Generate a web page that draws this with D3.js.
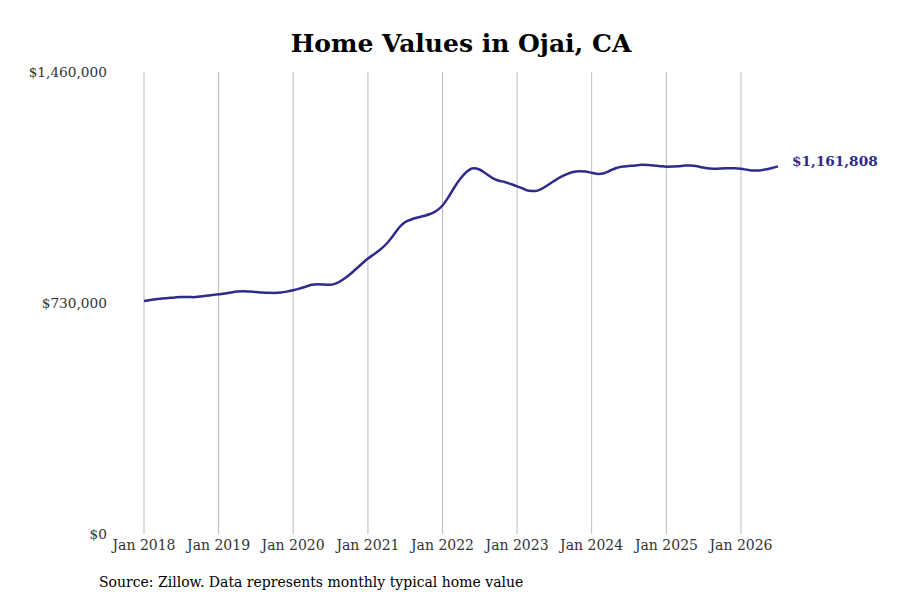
<!DOCTYPE html>
<html>
<head>
<meta charset="utf-8">
<script src="https://cdn.jsdelivr.net/npm/d3@7"></script>
<style>
  body { margin: 0; background: #fff; }
  text { font-family: "DejaVu Serif", serif; }
</style>
</head>
<body>
<svg width="900" height="600"></svg>
<script>
// monthly typical home value, Jan 2018 .. Jul 2026
var startMonth = "2018-01";
var homeValues = [
  736000, 739500, 742000, 743900, 745800, 747700, 749000, 749000, 748300, 750500, 752800, 755300,
  757500, 760000, 763200, 766300, 767000, 766000, 764800, 763200, 762200, 761600, 762900, 766000,
  770400, 775500, 781200, 787500, 789400, 788100, 787500, 792600, 804300, 818500, 835900, 853200,
  870300, 884800, 898100, 916400, 940100, 967000, 985000, 993900, 1000200, 1004900, 1011300, 1020700,
  1038100, 1066600, 1096600, 1125000, 1145600, 1155700, 1151900, 1139300, 1125700, 1117100, 1112400, 1106100,
  1098800, 1090900, 1084600, 1083900, 1090900, 1102900, 1115500, 1127500, 1137000, 1144000, 1146500, 1145200,
  1141500, 1137700, 1140200, 1148700, 1156600, 1161400, 1162900, 1164500, 1166700, 1166100, 1164500, 1162300,
  1160700, 1161000, 1162300, 1164200, 1164900, 1162000, 1157900, 1155000, 1154400, 1155000, 1156000, 1155700,
  1154100, 1150900, 1148400, 1149000, 1151900, 1156600, 1161808
];
var yTicks = [0, 730000, 1460000];
var tickYears = [2018, 2019, 2020, 2021, 2022, 2023, 2024, 2025, 2026];
var title = "Home Values in Ojai, CA";
var sourceNote = "Source: Zillow. Data represents monthly typical home value";

var lineColor = "#2f2b8b";
var parseMonth = d3.timeParse("%Y-%m");
var t0 = parseMonth(startMonth);
var series = homeValues.map(function(v, i) {
  return { date: d3.timeMonth.offset(t0, i), value: v };
});

var svg = d3.select("svg");

var x = d3.scaleTime()
    .domain([new Date(2018, 0, 1), new Date(2026, 0, 1)])
    .range([144, 741]);
var y = d3.scaleLinear()
    .domain([0, 1460000])
    .range([534, 72]);

// title
svg.append("text")
    .attr("x", 461)
    .attr("y", 52)
    .attr("text-anchor", "middle")
    .style("font-size", "25px")
    .style("font-weight", "bold")
    .style("fill", "#000")
    .text(title);

// vertical gridlines + x labels
var xAxis = svg.append("g").attr("class", "x-axis");
var tickDates = tickYears.map(function(yr) { return new Date(yr, 0, 1); });
xAxis.selectAll("line")
    .data(tickDates)
    .enter().append("line")
    .attr("x1", function(d) { return x(d); })
    .attr("x2", function(d) { return x(d); })
    .attr("y1", y(1460000))
    .attr("y2", y(0))
    .style("stroke", "#bdbdbd")
    .style("stroke-width", 1);
xAxis.selectAll("text")
    .data(tickDates)
    .enter().append("text")
    .attr("x", function(d) { return x(d); })
    .attr("y", 550)
    .attr("text-anchor", "middle")
    .style("font-size", "14px")
    .style("fill", "#333")
    .text(d3.timeFormat("Jan %Y"));

// y labels
var fmt = d3.format("$,");
svg.append("g").selectAll("text")
    .data(yTicks)
    .enter().append("text")
    .attr("x", 107)
    .attr("y", function(d) { return y(d); })
    .attr("dy", "0.35em")
    .attr("text-anchor", "end")
    .style("font-size", "13.7px")
    .style("fill", "#333")
    .text(function(d) { return fmt(d); });

// line
var line = d3.line()
    .x(function(d) { return x(d.date); })
    .y(function(d) { return y(d.value); })
    .curve(d3.curveMonotoneX);

svg.append("path")
    .datum(series)
    .attr("d", line)
    .style("fill", "none")
    .style("stroke", lineColor)
    .style("stroke-width", 2.5);

// end label
var last = series[series.length - 1];
svg.append("text")
    .attr("x", x(last.date) + 14)
    .attr("y", y(last.value) - 5)
    .attr("dy", "0.35em")
    .style("font-size", "13.7px")
    .style("font-weight", "bold")
    .style("fill", lineColor)
    .text(fmt(last.value));

// source
svg.append("text")
    .attr("x", 99)
    .attr("y", 587)
    .style("font-size", "14px")
    .style("fill", "#000")
    .text(sourceNote);
</script>
</body>
</html>
